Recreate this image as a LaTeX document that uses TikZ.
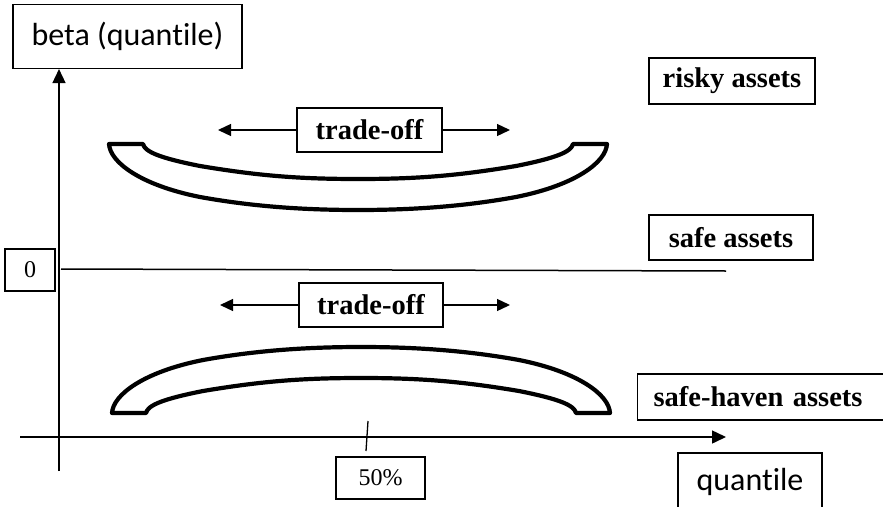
\documentclass[tikz,border=0pt]{standalone}
\usepackage{fontspec}
\setmainfont{Liberation Serif}
\newfontfamily\calibrifont[Ligatures=NoCommon]{Carlito}
\usetikzlibrary{arrows.meta}

\tikzset{
  lbl/.style={draw, line width=1.1pt, inner sep=0pt, font=\fontsize{28.5}{32}\selectfont\bfseries},
  axlbl/.style={draw, line width=1.1pt, inner sep=0pt, font=\calibrifont\fontsize{32}{36}\selectfont},
  numlbl/.style={draw, line width=1.1pt, inner sep=0pt, font=\fontsize{24}{28}\selectfont},
  axis/.style={line width=1.5pt, -{Triangle[length=14pt,width=13pt]}},
  arr/.style={line width=1.3pt, -{Triangle[length=13pt,width=12pt]}},
  bowlline/.style={line width=4.2pt, line join=round},
  bowlpic/.pic={
    \draw[bowlline] (109,144) -- (143,144)
      .. controls (145,152) and (160,158) .. (200,166)
      .. controls (260,176) and (300,179) .. (358,179)
      .. controls (416,179) and (456,176) .. (516,166)
      .. controls (556,158) and (571,152) .. (573,144) -- (607,144)
      .. controls (606,162) and (576,185) .. (516,197)
      .. controls (466,206) and (416,210) .. (358,210)
      .. controls (300,210) and (250,206) .. (200,197)
      .. controls (140,185) and (110,162) .. (109,144) -- cycle;
  }
}

\begin{document}
\begin{tikzpicture}[x=1pt, y=-1pt]
\useasboundingbox (0,0) rectangle (883,506);

% axis labels
\node[axlbl, minimum width=229pt, minimum height=64pt] (beta) at (127.5,36.5) {beta (quantile)};
\node[axlbl, minimum width=144pt, minimum height=58pt] (quant) at (750,482) {quantile};
\node[numlbl, minimum width=50pt, minimum height=42pt] (zero) at (30,270) {0};
\node[numlbl, minimum width=89pt, minimum height=42pt] (half) at (380.5,478) {50\%};

% asset classes
\node[lbl, minimum width=166pt, minimum height=46pt] (risky) at (732,81) {risky assets};
\node[lbl, minimum width=164pt, minimum height=45pt] (safe) at (731,237.5) {safe assets};
\node[lbl, anchor=west, minimum height=46pt, text width=230pt, inner xsep=16pt, align=left] (haven) at (637,397) {safe-haven assets};

% trade-offs
\node[lbl, minimum width=145pt, minimum height=44pt] (tradeA) at (369.5,130) {trade-off};
\node[lbl, minimum width=144pt, minimum height=44pt] (tradeB) at (371,305) {trade-off};
\coordinate (tA1) at (218,130);
\coordinate (tA2) at (510,130);
\coordinate (tB1) at (220,305);
\coordinate (tB2) at (510,305);
\draw[arr] (tradeA) -- (tA1);
\draw[arr] (tradeA) -- (tA2);
\draw[arr] (tradeB) -- (tB1);
\draw[arr] (tradeB) -- (tB2);

% axes
\coordinate (ybot) at (59,471);
\coordinate (xbeg) at (20,437);
\coordinate (xend) at (726,437);
\draw[axis] (ybot) -- (ybot |- beta.south);
\draw[axis] (xbeg) -- (xend);
\coordinate (tickT) at (368,421);
\coordinate (tickB) at (366,451);
\draw[line width=1.3pt] (tickT) -- (tickB);

% zero beta line
\coordinate (safeL) at (61,269);
\coordinate (safeR) at (726,271);
\draw[line width=1.5pt] (safeL) -- (safeR);

% bowls
\pic at (0,0) {bowlpic};
\pic[yscale=-1] at (3,557) {bowlpic};
\end{tikzpicture}
\end{document}
